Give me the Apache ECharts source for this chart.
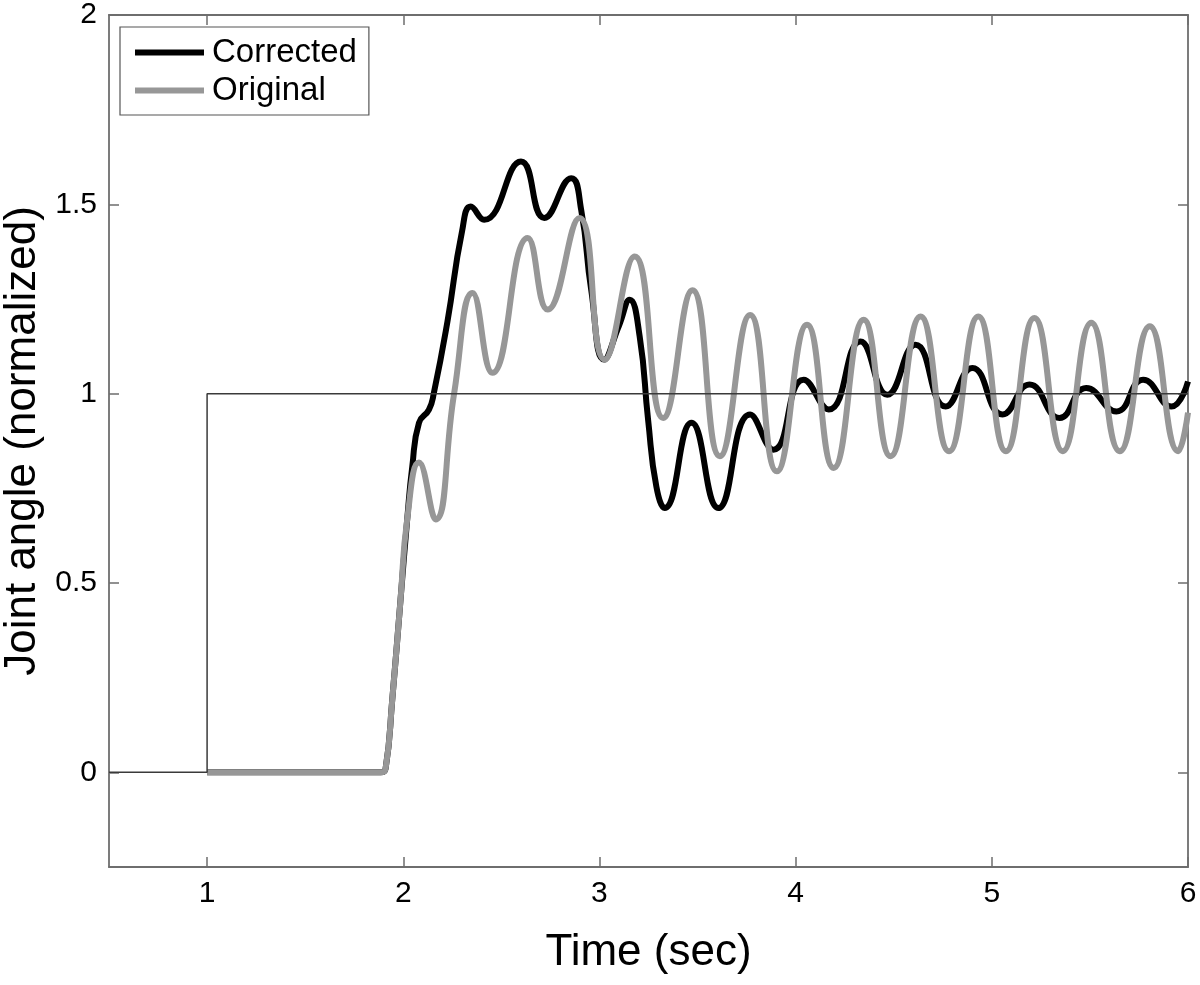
<!DOCTYPE html>
<html>
<head>
<meta charset="utf-8">
<script src="https://cdn.jsdelivr.net/npm/echarts@6/dist/echarts.min.js"></script>
<style>
html,body{margin:0;padding:0;background:#fff;}
#chart{width:1200px;height:985px;}
</style>
</head>
<body>
<div id="chart"></div>
<script>
// ---- data ----
const seriesNames = ['Corrected', 'Original'];
const xTicks = [1, 2, 3, 4, 5, 6];
const yTicks = [0, 0.5, 1, 1.5, 2];

// reference step input
const stepInput = [[0.5, 0], [1, 0], [1, 1], [6, 1]];

// Corrected response [time, angle]
const corrected = [
  [1.0, 0], [1.5, 0], [1.885, 0], [1.91, 0.01], [1.944, 0.193], [1.986, 0.456], [2.02, 0.668],
  [2.046, 0.808], [2.08, 0.923], [2.131, 0.958], [2.156, 1.002], [2.225, 1.19], [2.30, 1.43],
  [2.344, 1.494], [2.412, 1.459], [2.600, 1.613], [2.719, 1.464], [2.856, 1.569],
  [2.907, 1.485], [2.958, 1.274], [3.024, 1.09], [3.10, 1.18], [3.154, 1.248], [3.205, 1.151],
  [3.248, 0.931], [3.29, 0.755], [3.333, 0.698], [3.469, 0.923], [3.606, 0.698], [3.768, 0.945],
  [3.887, 0.852], [4.041, 1.037], [4.169, 0.958], [4.330, 1.138], [4.467, 0.997], [4.611, 1.129],
  [4.765, 0.966], [4.901, 1.068], [5.055, 0.945], [5.192, 1.024], [5.345, 0.936], [5.481, 1.015],
  [5.635, 0.953], [5.771, 1.037], [5.916, 0.966], [6.0, 1.032]
];

// Original response [time, angle]
const original = [
  [1.0, 0], [1.5, 0], [1.885, 0], [1.91, 0.01], [1.944, 0.193], [1.986, 0.456], [2.02, 0.668],
  [2.08, 0.818], [2.165, 0.668], [2.259, 1.0], [2.353, 1.266], [2.455, 1.055], [2.634, 1.411],
  [2.736, 1.222], [2.898, 1.464], [3.026, 1.090], [3.179, 1.362], [3.325, 0.936], [3.474, 1.273],
  [3.614, 0.835], [3.768, 1.208], [3.904, 0.795], [4.058, 1.182], [4.194, 0.804], [4.347, 1.195],
  [4.484, 0.835], [4.637, 1.204], [4.782, 0.848], [4.931, 1.204], [5.072, 0.848], [5.217, 1.200],
  [5.362, 0.848], [5.507, 1.187], [5.652, 0.848], [5.805, 1.178], [5.950, 0.848], [6.0, 0.95]
];

// ---- chart ----
const FONT = "'Liberation Sans', Arial, Helvetica, sans-serif";
const AXIS_COLOR = '#6e6e6e';
const chart = echarts.init(document.getElementById('chart'), null, {renderer: 'canvas'});

const tickStyle = {show: true, inside: true, length: 10, lineStyle: {color: AXIS_COLOR, width: 1.5}};
const lineStyleAxis = {show: true, onZero: false, lineStyle: {color: AXIS_COLOR, width: 1.8}};

chart.setOption({
  animation: false,
  backgroundColor: '#ffffff',
  textStyle: {fontFamily: FONT},
  grid: {left: 109, right: 12, top: 15, bottom: 118, containLabel: false, outerBoundsMode: 'none'},
  legend: {
    data: seriesNames,
    orient: 'vertical',
    left: 120,
    top: 27,
    padding: [9, 12, 8, 15],
    itemGap: 5,
    itemWidth: 69,
    itemHeight: 6,
    icon: 'rect',
    borderColor: '#555',
    borderWidth: 1.2,
    backgroundColor: '#fff',
    textStyle: {fontSize: 33, color: '#000', fontFamily: FONT, padding: [0, 0, 0, 3]}
  },
  xAxis: [
    {
      type: 'value', min: 0.5, max: 6, position: 'bottom',
      name: 'Time (sec)', nameLocation: 'middle', nameGap: 64,
      nameTextStyle: {fontSize: 44, color: '#000', fontFamily: FONT},
      axisLine: lineStyleAxis,
      axisTick: Object.assign({}, tickStyle, {customValues: xTicks}),
      axisLabel: {customValues: xTicks, fontSize: 30, color: '#000', margin: 12, fontFamily: FONT},
      splitLine: {show: false}
    },
    {
      type: 'value', min: 0.5, max: 6, position: 'top',
      axisLine: lineStyleAxis,
      axisTick: Object.assign({}, tickStyle, {customValues: xTicks}),
      axisLabel: {show: false},
      splitLine: {show: false}
    }
  ],
  yAxis: [
    {
      type: 'value', min: -0.25, max: 2, position: 'left',
      name: 'Joint angle (normalized)', nameLocation: 'middle', nameGap: 64,
      nameTextStyle: {fontSize: 44, color: '#000', fontFamily: FONT},
      axisLine: lineStyleAxis,
      axisTick: Object.assign({}, tickStyle, {customValues: yTicks}),
      axisLabel: {customValues: yTicks, fontSize: 30, color: '#000', margin: 12, fontFamily: FONT},
      splitLine: {show: false}
    },
    {
      type: 'value', min: -0.25, max: 2, position: 'right',
      axisLine: lineStyleAxis,
      axisTick: Object.assign({}, tickStyle, {customValues: yTicks}),
      axisLabel: {show: false},
      splitLine: {show: false}
    }
  ],
  series: [
    {
      name: seriesNames[0], type: 'line', data: corrected, symbol: 'none', smooth: 0.5,
      lineStyle: {color: '#000000', width: 6}, itemStyle: {color: '#000000'}, z: 2
    },
    {
      name: seriesNames[1], type: 'line', data: original, symbol: 'none', smooth: 0.5,
      lineStyle: {color: '#979797', width: 6}, itemStyle: {color: '#979797'}, z: 3
    },
    {
      name: 'Input', type: 'line', data: stepInput, symbol: 'none',
      lineStyle: {color: '#3a3a3a', width: 1.5}, z: 4, silent: true
    }
  ]
});
</script>
</body>
</html>
